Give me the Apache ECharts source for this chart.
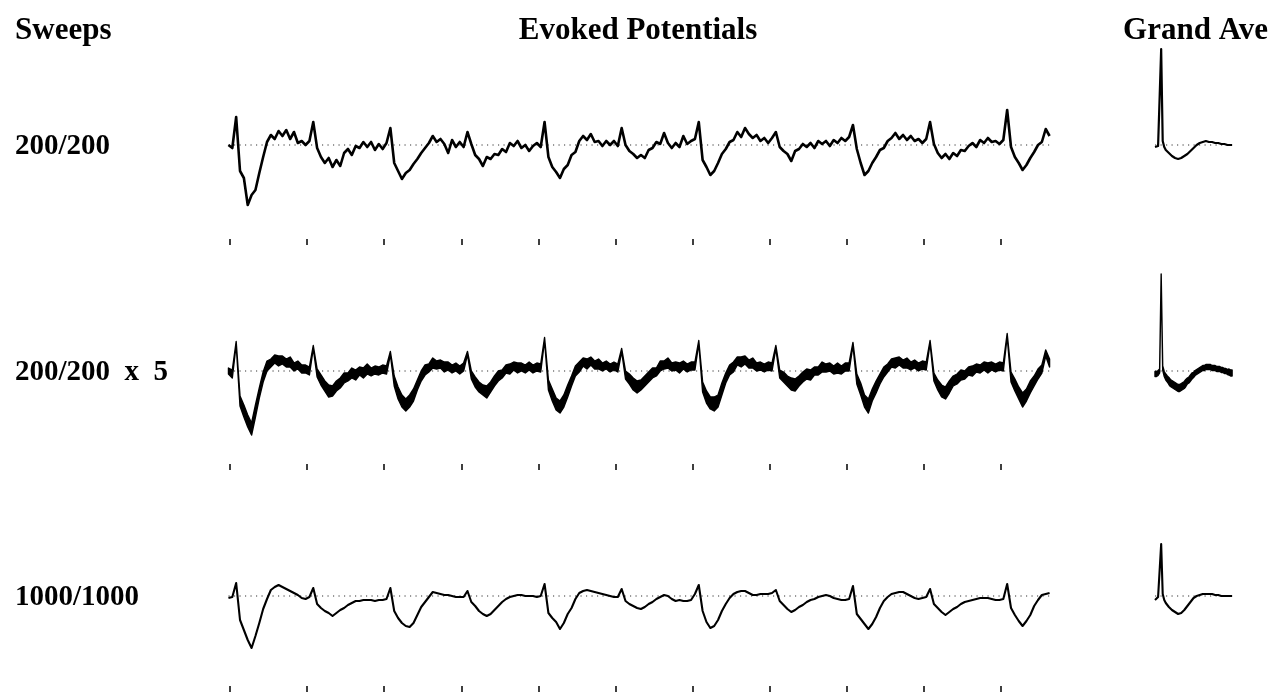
<!DOCTYPE html>
<html>
<head>
<meta charset="utf-8">
<script src="https://cdn.jsdelivr.net/npm/echarts@6/dist/echarts.min.js"></script>
<style>
  html, body { margin: 0; padding: 0; background: #ffffff; }
  #chart { width: 1272px; height: 692px; }
</style>
</head>
<body>
<div id="chart"></div>
<script>
// Continuous recordings: first sample time and sampling step, in ms
const T0 = -2;
const DT = 5;
// Grand-average epoch: first sample time and step, in ms
const GA_T0 = 0;
const GA_DT = 2;

const headings = ['Sweeps', 'Evoked Potentials', 'Grand Ave'];
const rowLabels = ['200/200', '200/200  x  5', '1000/1000'];

// Average of 200 sweeps (µV, positive up)
const avg200 = [
  0, -3, 28, -26, -33, -60, -50, -45, -28, -12, 3, 10, 6, 14, 9, 15, 6, 13, 2, 4,
  0, 4, 23, -3, -12, -18, -13, -22, -15, -21, -8, -4, -10, -1, -3, 3, -2, 3, -5, 1,
  -4, 2, 17, -18, -26, -34, -28, -25, -19, -14, -8, -3, 2, 9, 3, 6, 1, -8, 5, -2,
  3, -2, 13, 1, -10, -14, -21, -12, -14, -9, -10, -4, -7, 2, -1, 4, -3, 0, -6, -1,
  2, -2, 23, -12, -22, -27, -33, -24, -20, -10, -7, 4, 9, 5, 11, 3, 4, -1, 4, 0,
  4, -1, 17, 0, -6, -9, -13, -10, -13, -5, -3, 3, 1, 12, 2, -3, 2, -2, 9, 1,
  4, 6, 23, -15, -22, -30, -26, -18, -9, -4, 3, 5, 13, 8, 17, 11, 7, 10, 4, 7,
  2, 7, 13, -2, -6, -9, -16, -6, -4, 1, -2, 2, -3, 4, 1, 4, -1, 5, 2, 7,
  4, 8, 20, -4, -18, -30, -26, -18, -12, -5, -3, 4, 7, 12, 6, 10, 5, 9, 4, 6,
  2, 6, 23, 1, -8, -13, -9, -14, -8, -11, -5, -6, -1, 2, -2, 5, 2, 7, 3, 4,
  1, 5, 35, -2, -12, -18, -25, -20, -13, -7, 0, 3, 16, 9
];

// Five replicate 200-sweep averages: mean and half of their spread
const rep5Mean = [
  0, -3, 28, -30, -40, -50, -58, -40, -22, -6, 5, 8, 12, 10, 11, 8, 9, 4, 6, 2,
  2, 0, 24, -2, -9, -15, -20, -20, -15, -12, -7, -6, -2, -4, 0, -2, 2, -1, 1, 0,
  2, 1, 18, -10, -22, -30, -34, -30, -24, -14, -5, 1, 3, 8, 6, 7, 4, 5, 2, 4,
  1, 4, 18, -4, -11, -16, -19, -21, -16, -10, -5, -3, 2, 2, 5, 3, 4, 2, 5, 2,
  4, 3, 32, -14, -24, -33, -36, -30, -20, -10, 0, 4, 9, 7, 10, 6, 7, 4, 6, 3,
  5, 3, 21, -4, -8, -13, -16, -14, -10, -6, -2, -1, 5, 6, 8, 4, 5, 3, 6, 3,
  5, 5, 29, -16, -26, -32, -33, -30, -18, -7, 1, 4, 10, 9, 11, 7, 8, 4, 5, 3,
  5, 4, 24, -3, -6, -10, -13, -14, -10, -6, -3, -4, 0, 0, 4, 3, 4, 1, 3, 1,
  4, 4, 27, -8, -18, -30, -35, -24, -16, -8, -1, 3, 8, 8, 10, 7, 8, 5, 7, 4,
  6, 5, 29, -6, -14, -20, -22, -16, -10, -8, -4, -4, 0, 0, 3, 2, 5, 3, 5, 3,
  5, 4, 36, -6, -14, -22, -29, -24, -16, -10, -3, 2, 18, 8
];
const rep5Half = [
  3, 4, 1.5, 5, 6, 6, 6, 6, 5, 5, 5, 4, 4, 5, 4, 4, 5, 4, 4, 4,
  4, 4, 1.5, 4, 5, 5, 6, 5, 5, 5, 5, 4, 5, 5, 4, 5, 5, 4, 4, 4,
  4, 4, 1.5, 5, 6, 6, 6, 6, 6, 5, 5, 5, 4, 5, 4, 4, 5, 4, 4, 4,
  4, 4, 1.5, 4, 5, 5, 5, 6, 5, 5, 5, 4, 4, 5, 4, 5, 4, 4, 4, 4,
  4, 4, 1.5, 5, 6, 6, 6, 6, 6, 5, 5, 5, 4, 5, 4, 4, 5, 4, 4, 4,
  4, 4, 1.5, 4, 5, 6, 6, 5, 5, 5, 5, 4, 5, 4, 5, 4, 4, 5, 4, 4,
  4, 4, 1.5, 5, 6, 6, 7, 6, 6, 5, 5, 5, 4, 5, 4, 4, 5, 4, 4, 4,
  4, 4, 1.5, 4, 5, 5, 6, 6, 5, 5, 5, 5, 4, 4, 5, 4, 4, 4, 5, 4,
  4, 4, 1.5, 5, 6, 6, 7, 6, 6, 5, 5, 4, 4, 5, 4, 4, 5, 4, 4, 4,
  4, 4, 1.5, 4, 5, 6, 6, 6, 5, 5, 5, 4, 4, 5, 4, 4, 4, 5, 4, 4,
  4, 4, 1.5, 5, 6, 6, 7, 6, 6, 5, 5, 4, 3, 4
];

// Average of 1000 sweeps
const avg1000 = [
  -2, -1, 13, -24, -34, -44, -52, -40, -27, -13, -3, 6, 9, 11, 9, 7, 5, 3, 1, -2,
  -3, -1, 8, -8, -12, -15, -17, -20, -17, -14, -12, -9, -7, -5, -5, -4, -4, -4, -5, -4,
  -4, -3, 8, -15, -22, -27, -30, -31, -27, -19, -11, -6, -1, 4, 3, 2, 1, 1, 0, -1,
  -1, -1, 5, -6, -10, -15, -18, -20, -18, -14, -10, -6, -3, -1, 0, 1, 1, 0, 0, 0,
  -1, 0, 12, -17, -22, -26, -33, -27, -18, -12, -3, 3, 5, 6, 5, 4, 3, 2, 1, 0,
  -1, -1, 7, -5, -8, -10, -12, -13, -11, -8, -6, -3, -1, 1, 0, -3, -5, -4, -5, -5,
  -4, 2, 11, -15, -26, -32, -30, -24, -15, -8, -2, 2, 4, 5, 5, 3, 1, 1, 2, 2,
  2, 3, 6, -5, -9, -13, -16, -14, -11, -9, -6, -4, -3, -1, 0, 1, 0, -2, -3, -4,
  -4, -3, 10, -18, -23, -28, -33, -28, -21, -12, -5, -1, 2, 3, 4, 4, 2, 0, -2, -3,
  -2, -1, 7, -8, -12, -16, -19, -16, -13, -11, -8, -6, -5, -4, -3, -2, -2, -2, -3, -4,
  -4, -3, 12, -12, -19, -25, -30, -25, -19, -10, -4, 1, 2, 3
];

// Grand averages over one 100 ms epoch
const grand200 = [
  -2, -3, -1, 0, 96, 4, -2, -5, -7, -8, -10, -11, -12, -13, -13, -14, -14, -13, -12, -11,
  -10, -9, -7, -6, -4, -3, -1, 0, 1, 2, 2, 3, 3, 4, 4, 3, 4, 3, 3, 2,
  2, 2, 2, 1, 1, 1, 0, 0, 1, 0, 0
];
const grandRep5Mean = [
  -3, -3, -2, 0, 96, 3, -3, -6, -8, -10, -12, -13, -14, -15, -16, -17, -17, -16, -15, -14,
  -12, -10, -9, -7, -5, -4, -2, -1, 0, 1, 2, 3, 3, 4, 4, 4, 4, 3, 3, 3,
  2, 2, 2, 1, 1, 0, 0, -1, -1, -2, -2
];
const grandRep5Half = [
  2.5, 2.5, 2.5, 2, 1, 2, 2.5, 3, 3, 3.5, 3.5, 3.5, 3.5, 3.5, 3.5, 3.5, 3.5, 3.5, 3.5, 3.5,
  3.5, 3, 3, 3, 3, 2.5, 2.5, 2.5, 2.5, 2.5, 2.5, 2.5, 2.5, 2.5, 2.5, 2.5, 2.5, 2.5, 2.5, 2.5,
  2.5, 2.5, 2.5, 2.5, 2.5, 2.5, 2.5, 2.5, 3, 3, 3
];
const grand1000 = [
  -4, -3, -1, 0, 52, 2, -4, -7, -9, -11, -12, -14, -15, -16, -17, -18, -18, -17, -16, -14,
  -12, -10, -8, -6, -4, -2, -1, 0, 1, 1, 2, 2, 2, 2, 2, 2, 2, 2, 1, 1,
  1, 1, 0, 0, 0, 0, 0, 0, 0, 0, 0
];

// ---- layout ----
const PX_PER_MS = 0.771;            // horizontal scale of every trace
const TRACE_LEFT = 230;             // x of t = 0 on the recordings
const TICK_SPAN = 1000;             // ms covered by the tick marks
const TICK_STEP = 100;
const GA_LEFT = 1155;
const GA_SPAN = 100;
const BASELINES = [145, 371, 596];  // y of 0 µV in each row
const Y_MAX = 100;
const Y_MIN = [-94, -93, -90];      // bottom of each row (tick marks hang below)

const INK = '#000000';
const SERIF = '"Liberation Serif", "DejaVu Serif", serif';

function timed(values, t0, dt) {
  return values.map((v, i) => [t0 + i * dt, v]);
}

const grids = [], xAxes = [], yAxes = [], series = [];

// One rectangle per panel; 1 µV maps to 1 px vertically in every row.
function addGrid(xMin, xMax, pxLeft, row, ticks) {
  grids.push({
    left: pxLeft,
    top: BASELINES[row] - Y_MAX,
    width: (xMax - xMin) * PX_PER_MS,
    height: Y_MAX - Y_MIN[row],
    containLabel: false
  });
  const idx = grids.length - 1;
  const xa = {
    gridIndex: idx, type: 'value', min: xMin, max: xMax,
    axisLine: { show: false, onZero: false },
    axisTick: { show: !!ticks, length: 6, lineStyle: { color: INK, width: 1.5 } },
    axisLabel: { show: false },
    splitLine: { show: false }
  };
  if (ticks) xa.interval = TICK_STEP;
  xAxes.push(xa);
  yAxes.push({
    gridIndex: idx, type: 'value', min: Y_MIN[row], max: Y_MAX,
    show: false, splitLine: { show: false }
  });
  return idx;
}

function baseline(idx, t1, t2) {
  series.push({
    type: 'line', xAxisIndex: idx, yAxisIndex: idx, silent: true,
    data: [[t1, 0], [t2, 0]], showSymbol: false, z: 1,
    lineStyle: { color: '#333', width: 1.2, type: [1.2, 4.3] }
  });
}

function trace(idx, values, t0, dt, lw) {
  series.push({
    type: 'line', xAxisIndex: idx, yAxisIndex: idx, silent: true,
    data: timed(values, t0, dt), showSymbol: false, z: 3,
    lineStyle: { color: INK, width: lw, join: 'round' }
  });
}

// Envelope of superimposed replicates, filled solid.
function band(idx, mean, half, t0, dt) {
  const items = mean.map((m, i) => [t0 + i * dt, m - half[i], m + half[i]]);
  series.push({
    type: 'custom', xAxisIndex: idx, yAxisIndex: idx, silent: true, z: 3,
    data: items,
    encode: { x: 0, y: [1, 2] },
    renderItem: function (params, api) {
      if (params.dataIndex !== 0) return null;
      const n = items.length;
      const pts = [];
      for (let i = 0; i < n; i++) pts.push(api.coord([api.value(0, i), api.value(2, i)]));
      for (let i = n - 1; i >= 0; i--) pts.push(api.coord([api.value(0, i), api.value(1, i)]));
      return {
        type: 'polygon',
        shape: { points: pts },
        style: { fill: INK, stroke: INK, lineWidth: 1.4, lineJoin: 'round' }
      };
    }
  });
}

const lastT = T0 + (avg200.length - 1) * DT;
const dataLeft = TRACE_LEFT + T0 * PX_PER_MS;

// Row 1: 200 sweeps
let g = addGrid(0, TICK_SPAN, TRACE_LEFT, 0, true);
g = addGrid(T0, lastT, dataLeft, 0, false);
baseline(g, T0, lastT);
trace(g, avg200, T0, DT, 2.6);
g = addGrid(0, GA_SPAN, GA_LEFT, 0, false);
baseline(g, 0, GA_SPAN);
trace(g, grand200, GA_T0, GA_DT, 2.2);

// Row 2: five replicates superimposed
g = addGrid(0, TICK_SPAN, TRACE_LEFT, 1, true);
g = addGrid(T0, lastT, dataLeft, 1, false);
baseline(g, T0, lastT);
band(g, rep5Mean, rep5Half, T0, DT);
g = addGrid(0, GA_SPAN, GA_LEFT, 1, false);
baseline(g, 0, GA_SPAN);
band(g, grandRep5Mean, grandRep5Half, GA_T0, GA_DT);

// Row 3: 1000 sweeps
g = addGrid(0, TICK_SPAN, TRACE_LEFT, 2, true);
g = addGrid(T0, lastT, dataLeft, 2, false);
baseline(g, T0, lastT);
trace(g, avg1000, T0, DT, 2.1);
g = addGrid(0, GA_SPAN, GA_LEFT, 2, false);
baseline(g, 0, GA_SPAN);
trace(g, grand1000, GA_T0, GA_DT, 2.1);

// Headings and row labels
const label = (txt, x, y, align, size) => ({
  type: 'text', x: x, y: y, silent: true,
  style: {
    text: txt, fill: INK, font: 'bold ' + size + 'px ' + SERIF,
    textAlign: align, textVerticalAlign: 'middle'
  }
});
const graphic = [
  label(headings[0], 15, 31, 'left', 31),
  label(headings[1], 638, 31, 'center', 31),
  label(headings[2], 1268, 31, 'right', 31)
];
rowLabels.forEach((lab, i) => graphic.push(label(lab, 15, BASELINES[i] + 2, 'left', 29)));

const chart = echarts.init(document.getElementById('chart'), null, { renderer: 'canvas' });
chart.setOption({
  animation: false,
  backgroundColor: '#ffffff',
  grid: grids,
  xAxis: xAxes,
  yAxis: yAxes,
  series: series,
  graphic: graphic
});
</script>
</body>
</html>
